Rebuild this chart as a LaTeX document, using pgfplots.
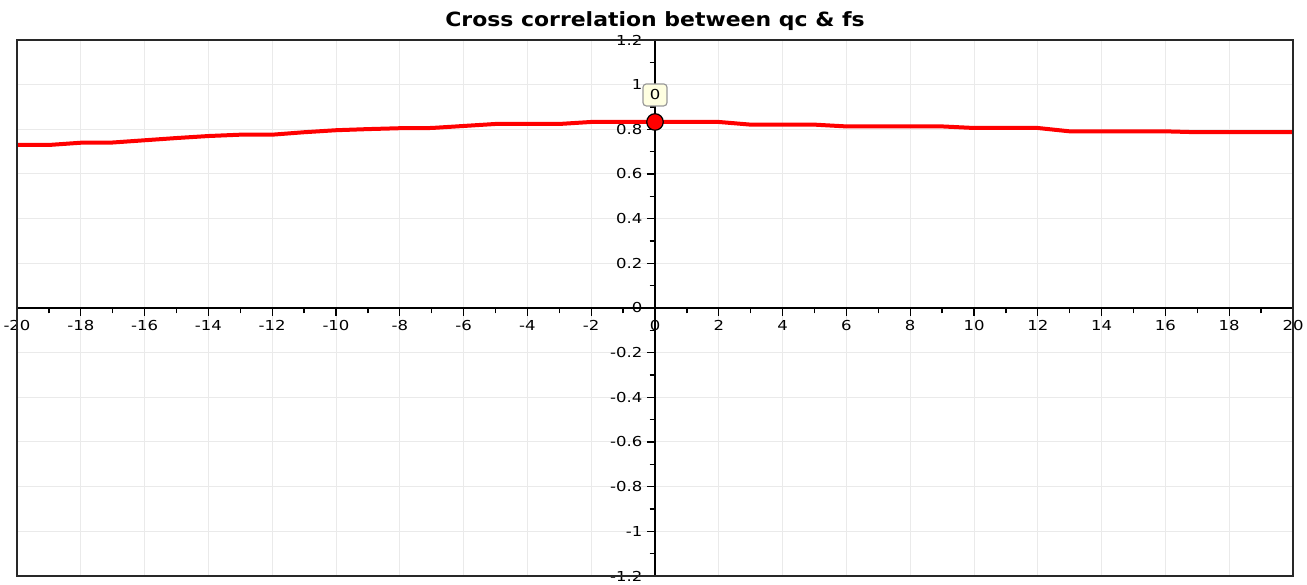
\documentclass[border=0pt]{standalone}
\usepackage{fontspec}
\setmainfont{DejaVu Sans}
\newfontfamily\tickfont{DejaVu Sans}[FakeStretch=1.2]
\newfontfamily\titlefont{DejaVu Sans}[FakeStretch=1.12]
\usepackage{pgfplots}
\pgfplotsset{compat=1.18}
\definecolor{gridgray}{RGB}{234,234,234}
\definecolor{tipfill}{RGB}{255,255,225}
\definecolor{framegray}{RGB}{40,40,40}
\begin{document}
\begin{tikzpicture}
\begin{axis}[
  at={(12.75pt,6.75pt)}, anchor=south west,
  width=957pt, height=402pt, scale only axis,
  xmin=-20, xmax=20, ymin=-1.2, ymax=1.2,
  axis lines=middle,
  axis line style={black, line width=1.5pt, -},
  xtick={-20,-18,-16,-14,-12,-10,-8,-6,-4,-2,0,2,4,6,8,10,12,14,16,18,20},
  ytick={-1.2,-1,-0.8,-0.6,-0.4,-0.2,0,0.2,0.4,0.6,0.8,1,1.2},
  minor x tick num=1, minor y tick num=1,
  tick align=outside, major tick length=6pt, minor tick length=4pt,
  tick style={black, line width=1pt},
  grid=major, major grid style={gridgray, line width=0.75pt},
  hide obscured x ticks=false, hide obscured y ticks=false,
  ticklabel style={font=\tickfont\fontsize{10.3}{12}\selectfont},
  /pgf/number format/assume math mode=true,
  clip=false,
  title={Cross correlation between qc \& fs},
  title style={at={(0.5,1)}, anchor=base, yshift=4.2pt, font=\titlefont\bfseries\fontsize{14.7}{17}\selectfont},
]
\addplot[red, line width=3pt] coordinates {
(-20,0.730) (-19,0.730) (-18,0.740) (-17,0.741) (-16,0.751) (-15,0.761)
(-14,0.770) (-13,0.776) (-12,0.776) (-11,0.787) (-10,0.796) (-9,0.801)
(-8,0.805) (-7,0.806) (-6,0.815) (-5,0.824) (-4,0.824) (-3,0.824)
(-2,0.833) (-1,0.833) (0,0.833) (1,0.833) (2,0.833) (3,0.821)
(4,0.821) (5,0.821) (6,0.813) (7,0.813) (8,0.813) (9,0.813)
(10,0.806) (11,0.806) (12,0.806) (13,0.791) (14,0.791) (15,0.791)
(16,0.791) (17,0.787) (18,0.787) (19,0.787) (20,0.787)
};
\addplot[only marks, mark=*, mark size=6.2pt, mark options={fill=red, draw=black, line width=0.9pt}] coordinates {(0,0.833)};
\node[fill=tipfill, draw=gray!80, rounded corners=2.5pt, line width=0.9pt, inner sep=0pt, minimum width=18pt, minimum height=16.5pt, font=\tickfont\fontsize{10.3}{12}\selectfont] at (axis cs:0,0.954) {0};
\draw[framegray, line width=1.5pt] (rel axis cs:0,0) rectangle (rel axis cs:1,1);
\end{axis}
\pgfresetboundingbox
\useasboundingbox (0,0) rectangle (980.25pt,438.75pt);
\end{tikzpicture}
\end{document}
